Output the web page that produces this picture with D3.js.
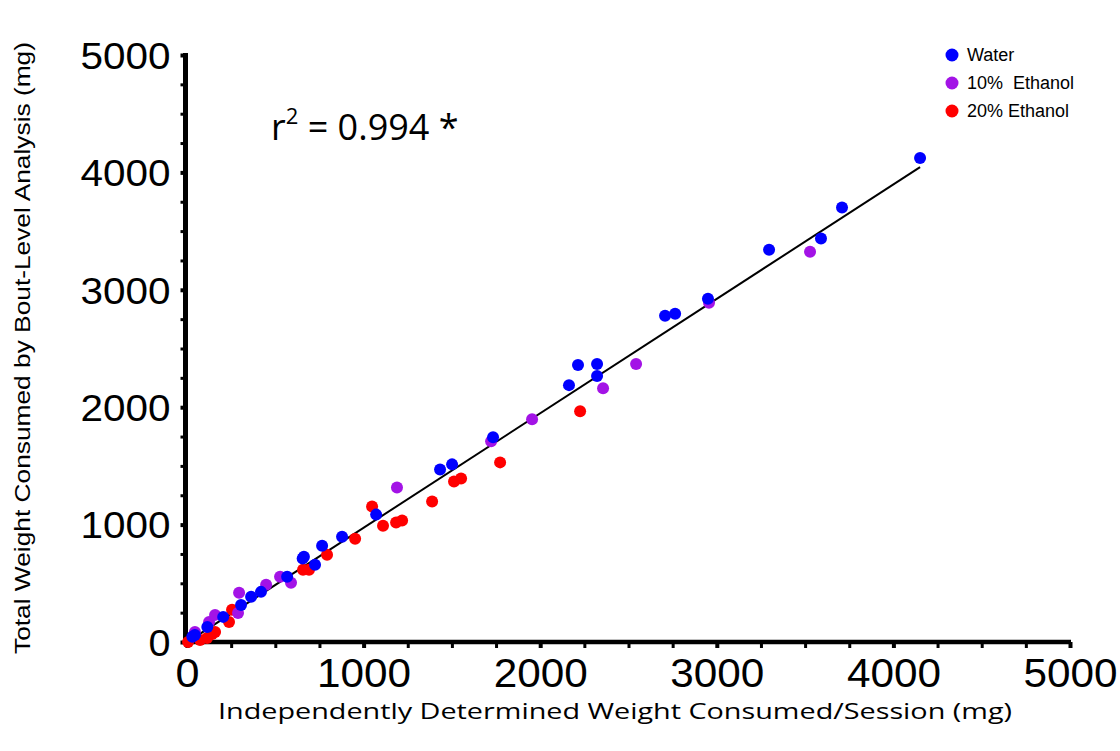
<!DOCTYPE html>
<html>
<head>
<meta charset="utf-8">
<script src="https://cdn.jsdelivr.net/npm/d3@7"></script>
<style>
  body { margin: 0; background: #fff; }
  svg { display: block; }
</style>
</head>
<body>
<div id="chart"></div>
<script>

// values (mg)
const waterX = [30, 45, 115, 205, 306, 363, 419, 567, 655, 662, 725, 765, 878, 1071, 1433, 1501, 1733, 2163, 2214, 2322, 2322, 2707, 2764, 2950, 3296, 3590, 3709, 4151];
const waterY = [45, 60, 128, 214, 316, 385, 427, 556, 712, 727, 658, 820, 897, 1085, 1470, 1513, 1744, 2188, 2359, 2368, 2265, 2778, 2795, 2923, 3342, 3436, 3701, 4123];

const eth10X = [45, 125, 159, 289, 295, 448, 527, 589, 1189, 1722, 1954, 2356, 2543, 2956, 3528];
const eth10Y = [85, 171, 231, 248, 419, 487, 556, 504, 1316, 1709, 1897, 2162, 2368, 2889, 3325];

const eth20X = [6, 74, 114, 142, 159, 238, 255, 657, 691, 793, 952, 1048, 1110, 1184, 1218, 1388, 1512, 1552, 1773, 2226];
const eth20Y = [0, 17, 34, 68, 85, 171, 274, 615, 615, 744, 880, 1154, 991, 1017, 1034, 1197, 1368, 1393, 1530, 1966];

// linear fit
const fitSlope = 0.975;
const fitIntercept = -2;
const fitRange = [10, 4151];
const rSquared = "0.994";

const axisTicks = d3.range(0, 5001, 250);

const series = [
    {name: "Water", x: waterX, y: waterY, color: "#0000ff"},
    {name: "10%\u00a0 Ethanol", x: eth10X, y: eth10Y, color: "#a313e6"},
    {name: "20% Ethanol", x: eth20X, y: eth20Y, color: "#ff0000"}
];

const width = 1120, height = 751;

const svg = d3.select("#chart").append("svg")
    .attr("width", width)
    .attr("height", height);

const x = d3.scaleLinear().domain([0, 5000]).range([187, 1070]);
const y = d3.scaleLinear().domain([0, 5000]).range([642, 55]);

const tickFont = "'Liberation Sans', Arial, sans-serif";

// x axis
const xAxis = svg.append("g")
    .attr("transform", "translate(0,642)")
    .call(d3.axisBottom(x)
        .tickValues(axisTicks)
        .tickSize(6)
        .tickSizeOuter(0)
        .tickFormat(d => d % 1000 === 0 ? String(d) : ""));

xAxis.select(".domain")
    .attr("d", "M183,0H1071")
    .attr("stroke", "#000")
    .attr("stroke-width", 4.5);
xAxis.selectAll(".tick line")
    .attr("stroke", "#000")
    .attr("stroke-width", d => d % 1000 === 0 ? 4 : 3);
xAxis.selectAll(".tick text")
    .attr("y", 45)
    .attr("dy", null)
    .attr("fill", "#000")
    .style("font-family", tickFont)
    .style("font-size", "40px")
    .attr("textLength", function(d) { return d % 1000 === 0 ? (d === 0 ? 24 : 94) : null; })
    .attr("lengthAdjust", "spacingAndGlyphs");

// y axis
const yAxis = svg.append("g")
    .attr("transform", "translate(185.5,0)")
    .call(d3.axisLeft(y)
        .tickValues(axisTicks)
        .tickSize(5)
        .tickSizeOuter(0)
        .tickFormat(d => d % 1000 === 0 ? String(d) : ""));

yAxis.select(".domain")
    .attr("d", "M0,53V644")
    .attr("stroke", "#000")
    .attr("stroke-width", 5);
yAxis.selectAll(".tick line")
    .attr("stroke", "#000")
    .attr("stroke-width", d => d % 1000 === 0 ? 4 : 3);
yAxis.selectAll(".tick text")
    .attr("x", -15)
    .attr("dy", "0.36em")
    .attr("fill", "#000")
    .style("font-family", tickFont)
    .style("font-size", "37px")
    .attr("textLength", function(d) { return d % 1000 === 0 ? (d === 0 ? 22 : 90) : null; })
    .attr("lengthAdjust", "spacingAndGlyphs");

// axis titles
svg.append("text")
    .attr("transform", "translate(30,348) rotate(-90)")
    .attr("text-anchor", "middle")
    .style("font-family", tickFont)
    .style("font-size", "22px")
    .attr("textLength", 612)
    .attr("lengthAdjust", "spacingAndGlyphs")
    .text("Total Weight Consumed by Bout-Level Analysis (mg)");

svg.append("text")
    .attr("x", 615)
    .attr("y", 719)
    .attr("text-anchor", "middle")
    .style("font-family", "'Open Sans', 'Noto Sans', sans-serif")
    .style("font-size", "22px")
    .attr("textLength", 794)
    .attr("lengthAdjust", "spacingAndGlyphs")
    .text("Independently Determined Weight Consumed/Session (mg)");

// fit line
svg.append("line")
    .attr("x1", x(fitRange[0]))
    .attr("y1", y(fitSlope * fitRange[0] + fitIntercept))
    .attr("x2", x(fitRange[1]))
    .attr("y2", y(fitSlope * fitRange[1] + fitIntercept))
    .attr("stroke", "#000")
    .attr("stroke-width", 2);

// points, drawn red first so blue sits on top like the original
const plot = svg.append("g");
[series[2], series[1], series[0]].forEach(function(s) {
    plot.selectAll(null)
        .data(s.x.map((v, i) => [v, s.y[i]]))
        .enter().append("circle")
        .attr("cx", d => x(d[0]))
        .attr("cy", d => y(d[1]))
        .attr("r", 6)
        .attr("fill", s.color);
});

// r squared label
const rText = svg.append("text")
    .attr("x", 271)
    .attr("y", 140)
    .style("font-family", "'Open Sans', 'Noto Sans', sans-serif")
    .style("font-size", "36px")
    .attr("fill", "#000");
rText.append("tspan").text("r");
rText.append("tspan").attr("dy", -16).style("font-size", "22px").text("2");
rText.append("tspan").attr("dy", 16).text(" = " + rSquared + " *");

// legend
const legend = svg.append("g").attr("transform", "translate(952,55)");
series.forEach(function(s, i) {
    const row = legend.append("g").attr("transform", "translate(0," + (i * 28) + ")");
    row.append("circle").attr("r", 6.5).attr("fill", s.color);
    row.append("text")
        .attr("x", 15)
        .attr("dy", "0.36em")
        .style("font-family", tickFont)
        .style("font-size", "18px")
        .text(s.name);
});

</script>
</body>
</html>
